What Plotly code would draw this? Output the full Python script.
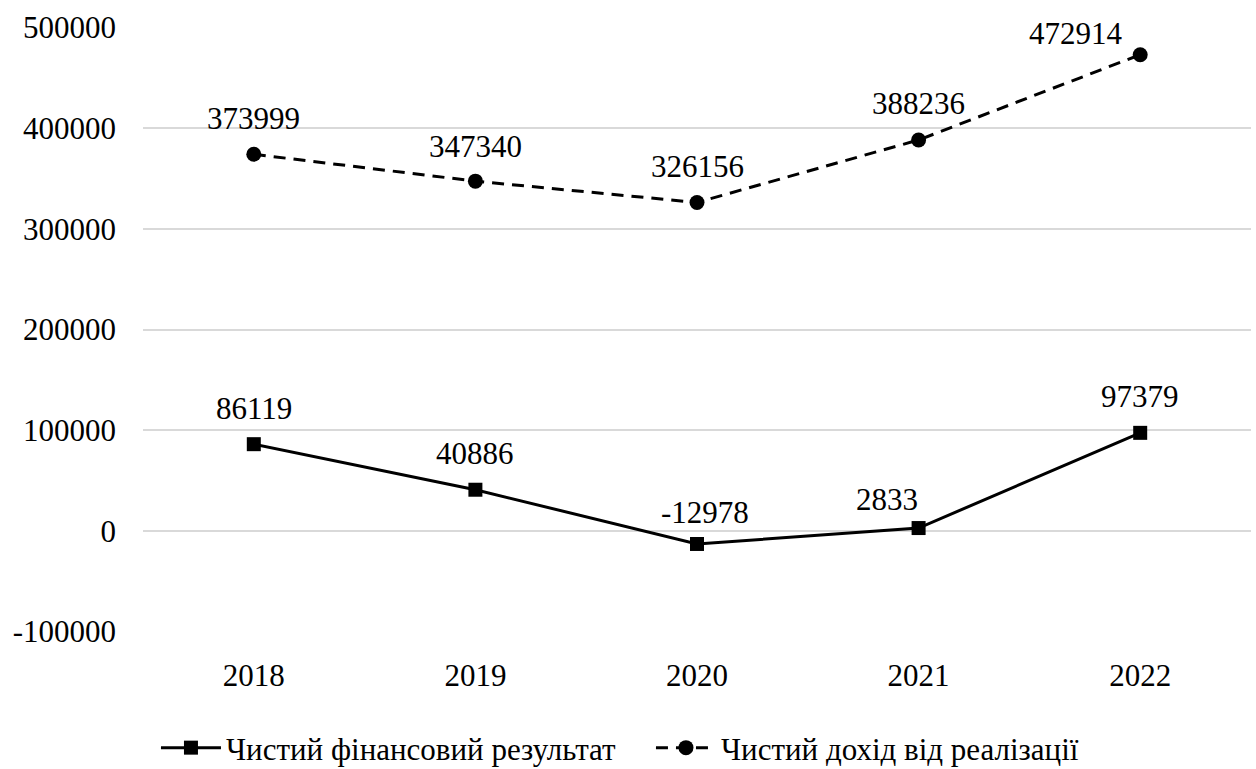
import plotly.graph_objects as go

years = ["2018", "2019", "2020", "2021", "2022"]
net_result = [86119, 40886, -12978, 2833, 97379]
net_income = [373999, 347340, 326156, 388236, 472914]
y_ticks = [-100000, 0, 100000, 200000, 300000, 400000, 500000]
y_tick_labels = ["-100000", "0", "100000", "200000", "300000", "400000", "500000"]

name_result = "Чистий фінансовий результат"
name_income = "Чистий дохід від реалізації"

# pixel offsets of each value label from its marker
result_label_shift = [(0, 36), (0, 36), (8, 31), (-32, 29), (0, 36)]
income_label_shift = [(0, 36), (0, 35), (0, 36), (0, 36), (-64, 21)]

FONT = "Liberation Serif"
FS = 31


def label(v):
    # plain hyphen for negatives, as in the printed report
    return ("-" + str(-v)) if v < 0 else str(v)


fig = go.Figure()

fig.add_trace(go.Scatter(
    x=years, y=net_result, name=name_result,
    mode="lines+markers",
    line=dict(color="black", width=3),
    marker=dict(symbol="square", size=14, color="black"),
    cliponaxis=False,
))

fig.add_trace(go.Scatter(
    x=years, y=net_income, name=name_income,
    mode="lines+markers",
    line=dict(color="black", width=3, dash="12px,8px"),
    marker=dict(symbol="circle", size=15, color="black"),
    cliponaxis=False,
))

annotations = []
for values, shifts in ((net_result, result_label_shift), (net_income, income_label_shift)):
    for i, (v, (dx, dy)) in enumerate(zip(values, shifts)):
        annotations.append(dict(
            xref="x", yref="y", x=i, y=v,
            text=label(v), showarrow=False,
            xanchor="center", yanchor="middle",
            xshift=dx, yshift=dy,
            font=dict(family=FONT, size=FS, color="black"),
        ))

fig.update_layout(
    width=1256, height=769,
    margin=dict(l=143, r=5, t=27, b=137, autoexpand=False),
    plot_bgcolor="white", paper_bgcolor="white",
    font=dict(family=FONT, size=FS, color="black"),
    annotations=annotations,
    showlegend=True,
    legend=dict(orientation="h", x=0.0117, xanchor="left",
                yref="container", y=1 - 748 / 769, yanchor="middle",
                font=dict(family=FONT, size=FS, color="black"),
                entrywidth=420, entrywidthmode="pixels",
                itemwidth=60, tracegroupgap=0),
)

fig.update_xaxes(
    type="category", range=[-0.5, 4.5],
    showgrid=False, showline=False, zeroline=False,
    ticks="", ticklabelstandoff=22,
    tickfont=dict(family=FONT, size=FS, color="black"),
)
fig.update_yaxes(
    range=[-100400, 500400],
    tickvals=y_ticks, ticktext=y_tick_labels,
    showgrid=True, gridcolor="#d9d9d9", gridwidth=2,
    zeroline=False, showline=False,
    ticks="", ticklabelstandoff=26,
    tickfont=dict(family=FONT, size=FS, color="black"),
)

fig.write_html("out.html")
